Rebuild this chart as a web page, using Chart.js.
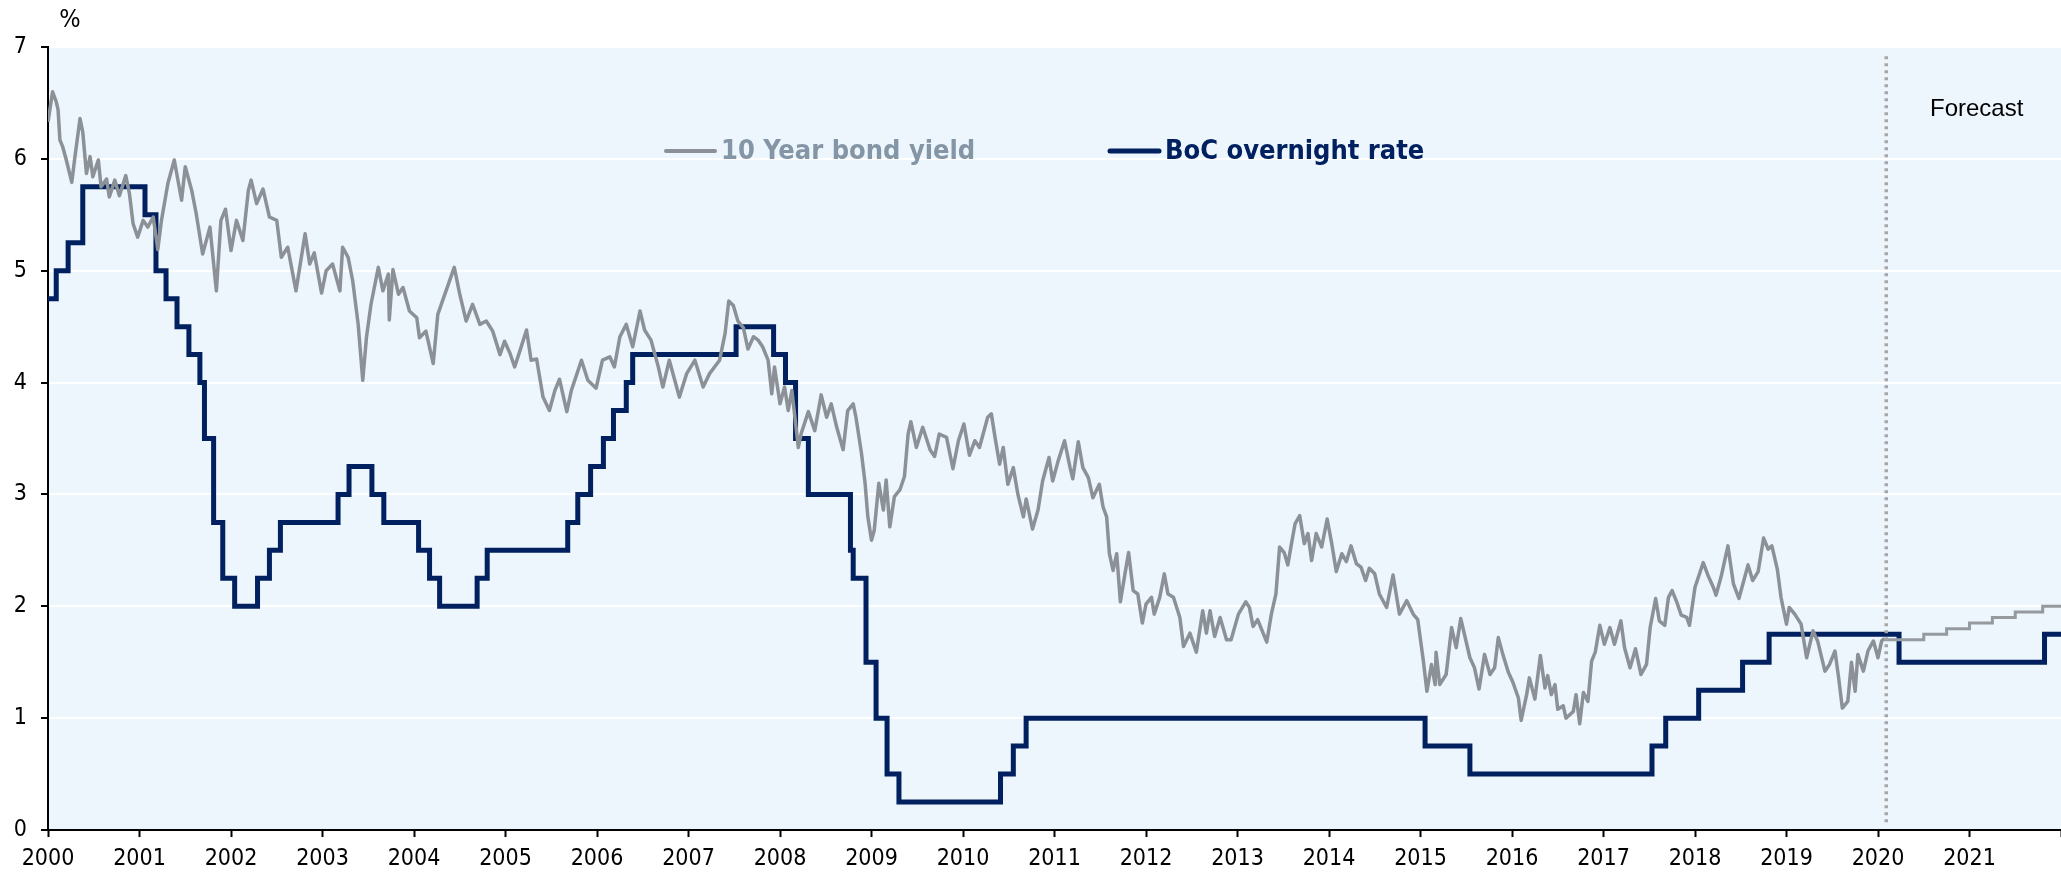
<!DOCTYPE html>
<html>
<head>
<meta charset="utf-8">
<script src="https://cdn.jsdelivr.net/npm/chart.js@4.4.0/dist/chart.umd.min.js"></script>
<style>
  html, body { margin: 0; padding: 0; background: #fff; }
  #wrap { width: 2061px; height: 878px; position: relative; }
</style>
</head>
<body>
<div id="wrap"><canvas id="rateChart"></canvas></div>
<script>
// axis ticks
const tickYears = [2000, 2001, 2002, 2003, 2004, 2005, 2006, 2007, 2008, 2009, 2010,
  2011, 2012, 2013, 2014, 2015, 2016, 2017, 2018, 2019, 2020, 2021];
const seriesNames = ['10 Year bond yield', 'BoC overnight rate'];

// 10 year bond yield (decimal years)
const bondDates = [
  2000.00, 2000.05, 2000.09, 2000.11, 2000.13, 2000.16, 2000.20, 2000.26, 2000.29, 2000.35,
  2000.38, 2000.42, 2000.46, 2000.49, 2000.55, 2000.58, 2000.64, 2000.67, 2000.73, 2000.78,
  2000.85, 2000.89, 2000.93, 2000.98, 2001.04, 2001.09, 2001.15, 2001.20, 2001.24, 2001.31,
  2001.38, 2001.46, 2001.50, 2001.57, 2001.62, 2001.69, 2001.77, 2001.84, 2001.89, 2001.94,
  2002.00, 2002.06, 2002.13, 2002.19, 2002.22, 2002.28, 2002.35, 2002.42, 2002.50, 2002.55,
  2002.62, 2002.71, 2002.81, 2002.86, 2002.91, 2002.99, 2003.04, 2003.11, 2003.19, 2003.22,
  2003.28, 2003.33, 2003.39, 2003.44, 2003.48, 2003.53, 2003.61, 2003.66, 2003.72, 2003.73,
  2003.77, 2003.83, 2003.88, 2003.95, 2004.03, 2004.06, 2004.13, 2004.21, 2004.26, 2004.35,
  2004.44, 2004.50, 2004.57, 2004.64, 2004.72, 2004.79, 2004.86, 2004.94, 2004.99, 2005.05,
  2005.10, 2005.16, 2005.23, 2005.28, 2005.34, 2005.41, 2005.48, 2005.54, 2005.59, 2005.67,
  2005.72, 2005.83, 2005.90, 2005.99, 2006.06, 2006.14, 2006.19, 2006.25, 2006.32, 2006.39,
  2006.47, 2006.52, 2006.59, 2006.67, 2006.72, 2006.79, 2006.85, 2006.90, 2006.98, 2007.07,
  2007.16, 2007.23, 2007.34, 2007.40, 2007.44, 2007.49, 2007.54, 2007.60, 2007.65, 2007.71,
  2007.76, 2007.81, 2007.87, 2007.91, 2007.94, 2008.00, 2008.05, 2008.09, 2008.13, 2008.20,
  2008.23, 2008.31, 2008.38, 2008.45, 2008.51, 2008.56, 2008.62, 2008.69, 2008.74, 2008.80,
  2008.83, 2008.89, 2008.93, 2008.96, 2009.00, 2009.03, 2009.08, 2009.13, 2009.16, 2009.20,
  2009.25, 2009.31, 2009.36, 2009.40, 2009.43, 2009.49, 2009.56, 2009.64, 2009.69, 2009.74,
  2009.82, 2009.89, 2009.95, 2010.01, 2010.07, 2010.13, 2010.18, 2010.22, 2010.27, 2010.31,
  2010.35, 2010.40, 2010.44, 2010.49, 2010.55, 2010.60, 2010.66, 2010.69, 2010.76, 2010.82,
  2010.87, 2010.94, 2010.98, 2011.04, 2011.11, 2011.17, 2011.20, 2011.26, 2011.31, 2011.37,
  2011.42, 2011.49, 2011.53, 2011.57, 2011.60, 2011.64, 2011.68, 2011.72, 2011.77, 2011.81,
  2011.86, 2011.91, 2011.96, 2012.00, 2012.06, 2012.09, 2012.15, 2012.20, 2012.24, 2012.30,
  2012.37, 2012.41, 2012.48, 2012.55, 2012.62, 2012.66, 2012.70, 2012.75, 2012.81, 2012.88,
  2012.93, 2013.01, 2013.09, 2013.13, 2013.17, 2013.22, 2013.32, 2013.37, 2013.42, 2013.46,
  2013.51, 2013.55, 2013.59, 2013.63, 2013.68, 2013.73, 2013.77, 2013.81, 2013.86, 2013.92,
  2013.98, 2014.03, 2014.08, 2014.14, 2014.19, 2014.24, 2014.30, 2014.35, 2014.40, 2014.44,
  2014.50, 2014.55, 2014.63, 2014.70, 2014.77, 2014.85, 2014.92, 2014.97, 2015.03, 2015.07,
  2015.12, 2015.16, 2015.17, 2015.21, 2015.28, 2015.34, 2015.39, 2015.44, 2015.48, 2015.54,
  2015.59, 2015.64, 2015.70, 2015.76, 2015.81, 2015.85, 2015.90, 2015.96, 2016.01, 2016.07,
  2016.10, 2016.16, 2016.19, 2016.25, 2016.31, 2016.36, 2016.39, 2016.43, 2016.47, 2016.50,
  2016.56, 2016.59, 2016.67, 2016.70, 2016.74, 2016.78, 2016.83, 2016.87, 2016.91, 2016.96,
  2017.01, 2017.07, 2017.12, 2017.19, 2017.23, 2017.29, 2017.35, 2017.41, 2017.47, 2017.51,
  2017.57, 2017.61, 2017.67, 2017.71, 2017.75, 2017.80, 2017.85, 2017.91, 2017.94, 2018.00,
  2018.09, 2018.14, 2018.20, 2018.23, 2018.29, 2018.36, 2018.42, 2018.48, 2018.53, 2018.58,
  2018.63, 2018.69, 2018.75, 2018.80, 2018.84, 2018.90, 2018.94, 2019.00, 2019.03, 2019.09,
  2019.16, 2019.22, 2019.29, 2019.34, 2019.42, 2019.47, 2019.53, 2019.57, 2019.61, 2019.67,
  2019.71, 2019.75, 2019.78, 2019.84, 2019.89, 2019.95, 2020.00, 2020.04, 2020.07
];
const bondValues = [
  6.33, 6.60, 6.51, 6.44, 6.17, 6.11, 5.99, 5.79, 5.99, 6.36,
  6.24, 5.87, 6.02, 5.84, 5.99, 5.75, 5.82, 5.66, 5.81, 5.67,
  5.85, 5.69, 5.42, 5.30, 5.45, 5.39, 5.48, 5.19, 5.45, 5.78,
  5.99, 5.63, 5.93, 5.72, 5.51, 5.15, 5.39, 4.82, 5.45, 5.55,
  5.18, 5.45, 5.27, 5.72, 5.81, 5.60, 5.73, 5.48, 5.45, 5.12,
  5.21, 4.82, 5.33, 5.06, 5.16, 4.80, 5.00, 5.06, 4.82, 5.21,
  5.12, 4.91, 4.52, 4.02, 4.40, 4.70, 5.03, 4.82, 4.97, 4.56,
  5.01, 4.79, 4.85, 4.64, 4.58, 4.40, 4.46, 4.17, 4.61, 4.82,
  5.03, 4.79, 4.55, 4.70, 4.52, 4.55, 4.46, 4.25, 4.37, 4.26,
  4.14, 4.29, 4.47, 4.20, 4.21, 3.87, 3.75, 3.93, 4.03, 3.74,
  3.93, 4.20, 4.02, 3.95, 4.20, 4.23, 4.14, 4.41, 4.52, 4.32,
  4.64, 4.47, 4.38, 4.14, 3.96, 4.20, 4.02, 3.87, 4.08, 4.20,
  3.96, 4.08, 4.20, 4.44, 4.73, 4.69, 4.55, 4.49, 4.30, 4.41,
  4.38, 4.32, 4.20, 3.90, 4.14, 3.81, 3.96, 3.75, 3.93, 3.42,
  3.54, 3.74, 3.57, 3.89, 3.69, 3.81, 3.60, 3.40, 3.75, 3.81,
  3.69, 3.37, 3.10, 2.80, 2.59, 2.68, 3.10, 2.86, 3.13, 2.71,
  2.98, 3.04, 3.16, 3.54, 3.65, 3.42, 3.60, 3.40, 3.34, 3.54,
  3.51, 3.23, 3.48, 3.63, 3.35, 3.48, 3.42, 3.54, 3.69, 3.72,
  3.51, 3.27, 3.42, 3.09, 3.24, 3.00, 2.80, 2.96, 2.69, 2.86,
  3.12, 3.33, 3.12, 3.30, 3.48, 3.24, 3.14, 3.47, 3.24, 3.15,
  2.97, 3.09, 2.89, 2.80, 2.47, 2.32, 2.47, 2.04, 2.29, 2.48,
  2.14, 2.11, 1.85, 2.02, 2.08, 1.93, 2.08, 2.29, 2.11, 2.08,
  1.90, 1.64, 1.76, 1.59, 1.96, 1.76, 1.96, 1.73, 1.90, 1.70,
  1.70, 1.93, 2.04, 1.99, 1.82, 1.88, 1.68, 1.93, 2.11, 2.53,
  2.48, 2.37, 2.56, 2.74, 2.81, 2.56, 2.65, 2.41, 2.65, 2.53,
  2.78, 2.56, 2.31, 2.47, 2.40, 2.54, 2.38, 2.35, 2.23, 2.34,
  2.29, 2.11, 1.99, 2.28, 1.93, 2.05, 1.93, 1.88, 1.52, 1.24,
  1.48, 1.30, 1.59, 1.30, 1.39, 1.81, 1.63, 1.89, 1.75, 1.54,
  1.45, 1.26, 1.57, 1.39, 1.45, 1.72, 1.57, 1.41, 1.32, 1.18,
  0.98, 1.21, 1.36, 1.17, 1.56, 1.27, 1.38, 1.21, 1.30, 1.08,
  1.11, 1.00, 1.06, 1.21, 0.95, 1.23, 1.15, 1.51, 1.59, 1.83,
  1.66, 1.81, 1.66, 1.87, 1.63, 1.45, 1.62, 1.39, 1.48, 1.81,
  2.07, 1.87, 1.83, 2.08, 2.14, 2.04, 1.92, 1.90, 1.83, 2.17,
  2.39, 2.28, 2.17, 2.10, 2.28, 2.54, 2.20, 2.07, 2.22, 2.37,
  2.23, 2.31, 2.61, 2.51, 2.54, 2.33, 2.08, 1.84, 1.99, 1.93,
  1.84, 1.54, 1.78, 1.69, 1.42, 1.48, 1.60, 1.36, 1.09, 1.15,
  1.50, 1.24, 1.57, 1.42, 1.60, 1.69, 1.54, 1.69, 1.71
];

// bond yield forecast (steps)
const bondForecastDates = [2020.07, 2020.50, 2020.75, 2021.00, 2021.25, 2021.50, 2021.80, 2022.00];
const bondForecastValues = [1.70, 1.75, 1.80, 1.85, 1.90, 1.95, 2.00, 2.00];

// BoC overnight rate: date of each change and the new level
const bocDates = [
  2000.00, 2000.09, 2000.22, 2000.38, 2001.06, 2001.18, 2001.29, 2001.41, 2001.54, 2001.66,
  2001.71, 2001.81, 2001.91, 2002.04, 2002.29, 2002.42, 2002.54, 2003.17, 2003.29, 2003.54,
  2003.67, 2004.05, 2004.17, 2004.28, 2004.69, 2004.80, 2005.68, 2005.79, 2005.93, 2006.07,
  2006.18, 2006.32, 2006.39, 2007.52, 2007.93, 2008.06, 2008.17, 2008.31, 2008.77, 2008.80,
  2008.94, 2009.05, 2009.17, 2009.30, 2010.41, 2010.55, 2010.69, 2015.05, 2015.54, 2017.53,
  2017.68, 2018.04, 2018.52, 2018.81, 2020.23, 2021.82, 2022.00
];
const bocValues = [
  4.75, 5.00, 5.25, 5.75, 5.50, 5.00, 4.75, 4.50, 4.25, 4.00,
  3.50, 2.75, 2.25, 2.00, 2.25, 2.50, 2.75, 3.00, 3.25, 3.00,
  2.75, 2.50, 2.25, 2.00, 2.25, 2.50, 2.75, 3.00, 3.25, 3.50,
  3.75, 4.00, 4.25, 4.50, 4.25, 4.00, 3.50, 3.00, 2.50, 2.25,
  1.50, 1.00, 0.50, 0.25, 0.50, 0.75, 1.00, 0.75, 0.50, 0.75,
  1.00, 1.25, 1.50, 1.75, 1.50, 1.75, 1.75
];

// start of forecast period (dotted line)
const forecastStart = 2020.09;
const forecastLineSpan = [0.07, 6.92];

const toPoints = (xs, ys) => xs.map((x, i) => ({ x: x, y: ys[i] }));

const GRAY = '#8b9197';
const NAVY = '#002060';
const tickFont = { family: '"DejaVu Sans Condensed", "DejaVu Sans", sans-serif', size: 23 };

const plotBackground = {
  id: 'plotBackground',
  beforeDraw(chart) {
    const { ctx, chartArea: a } = chart;
    ctx.save();
    ctx.fillStyle = '#edf5fd';
    ctx.fillRect(a.left, a.top, a.right - a.left, a.bottom - a.top);
    ctx.restore();
  }
};

// unit label, "Forecast" note and the in-plot legend
const annotations = {
  id: 'annotations',
  afterDraw(chart) {
    const { ctx, chartArea: a } = chart;
    ctx.save();
    ctx.fillStyle = '#000';
    ctx.textBaseline = 'middle';
    ctx.textAlign = 'center';
    ctx.font = '25px "DejaVu Sans Condensed", "DejaVu Sans", sans-serif';
    ctx.fillText('%', a.left + 22, 20);

    ctx.textAlign = 'left';
    ctx.font = '24px "Liberation Sans", Arial, sans-serif';
    ctx.fillText('Forecast', 1930, 109);

    const legend = [
      { x: 666, color: GRAY, text: '#8496a6', width: 4 },
      { x: 1110, color: NAVY, text: NAVY, width: 5 }
    ];
    ctx.font = 'bold 27px "DejaVu Sans Condensed", "DejaVu Sans", sans-serif';
    legend.forEach((item, i) => {
      ctx.strokeStyle = item.color;
      ctx.lineWidth = item.width;
      ctx.lineCap = 'round';
      ctx.beginPath();
      ctx.moveTo(item.x, 151);
      ctx.lineTo(item.x + 49, 151);
      ctx.stroke();
      ctx.fillStyle = item.text;
      ctx.fillText(seriesNames[i], item.x + 55, 152);
    });
    ctx.restore();
  }
};

new Chart(document.getElementById('rateChart'), {
  type: 'line',
  data: {
    datasets: [
      {
        label: 'Forecast start',
        data: toPoints([forecastStart, forecastStart], forecastLineSpan),
        borderColor: '#a6a6a6',
        borderWidth: 3.5,
        borderDash: [3, 4],
        pointRadius: 0
      },
      {
        label: seriesNames[0],
        data: toPoints(bondDates, bondValues),
        borderColor: GRAY,
        borderWidth: 3.5,
        borderJoinStyle: 'round',
        pointRadius: 0,
        tension: 0
      },
      {
        label: seriesNames[0] + ' forecast',
        data: toPoints(bondForecastDates, bondForecastValues),
        borderColor: '#959a9f',
        borderWidth: 3,
        stepped: 'before',
        pointRadius: 0
      },
      {
        label: seriesNames[1],
        data: toPoints(bocDates, bocValues),
        borderColor: NAVY,
        borderWidth: 5,
        stepped: 'before',
        pointRadius: 0
      }
    ]
  },
  options: {
    responsive: true,
    maintainAspectRatio: false,
    animation: false,
    layout: { padding: { top: 47, right: 0, left: 0, bottom: 0 } },
    plugins: {
      legend: { display: false },
      tooltip: { enabled: false }
    },
    scales: {
      x: {
        type: 'linear',
        min: 2000,
        max: 2022,
        afterFit: (scale) => {
          scale.height = 48;
          scale.paddingLeft = 0;
          scale.paddingRight = 0;
        },
        border: { display: true, color: '#000', width: 2 },
        grid: { drawOnChartArea: false, tickLength: 7, tickColor: '#000', tickWidth: 2 },
        ticks: {
          stepSize: 1,
          autoSkip: false,
          maxRotation: 0,
          padding: 8,
          color: '#000',
          font: tickFont,
          callback: (v) => tickYears.includes(v) ? String(v) : ''
        }
      },
      y: {
        min: 0,
        max: 7,
        afterFit: (scale) => { scale.width = 48; },
        border: { display: true, color: '#000', width: 2 },
        grid: { color: '#ffffff', lineWidth: 2, tickLength: 7, tickColor: '#000', tickWidth: 2 },
        ticks: {
          stepSize: 1,
          padding: 14,
          color: '#000',
          font: tickFont,
          callback: (v) => String(v)
        }
      }
    }
  },
  plugins: [plotBackground, annotations]
});
</script>
</body>
</html>
